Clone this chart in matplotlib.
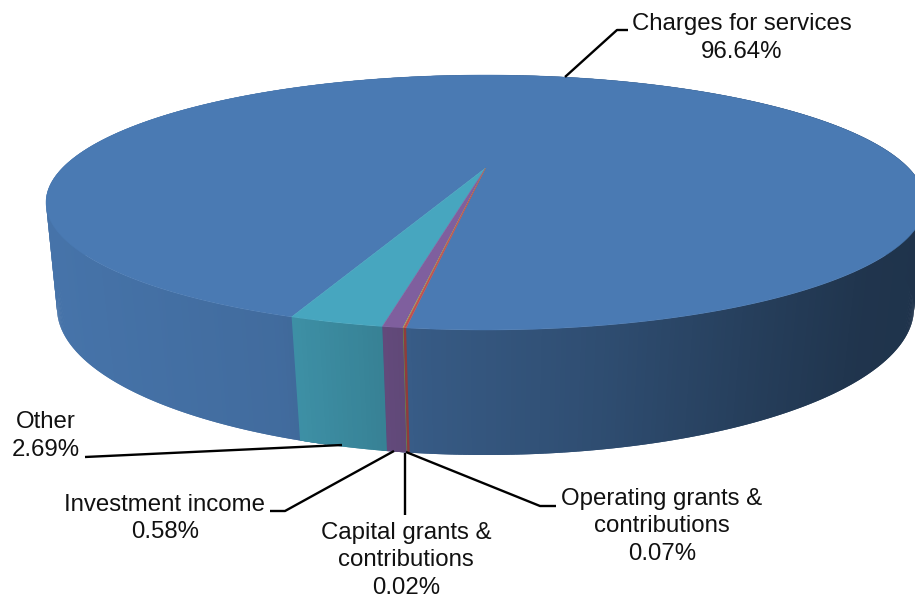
import numpy as np
import matplotlib
matplotlib.use('Agg')
import matplotlib.pyplot as plt
from matplotlib.colors import to_rgb

plt.rcParams['font.family'] = ['Liberation Sans', 'DejaVu Sans']

# slices in drawing order, the big one goes round the back of the pie
names = ['Charges for services', 'Other', 'Investment income',
         'Capital grants &\ncontributions', 'Operating grants &\ncontributions']
shares = [96.64, 2.69, 0.58, 0.02, 0.07]
top_colors = ['#4a7ab3', '#47a6bf', '#7f5f9e', '#9bbb59', '#c0504d']

# shading of the rim from left to right
shade_x = [40, 280, 420, 600, 750, 860, 925]
shade_f = [0.95, 0.88, 0.74, 0.63, 0.51, 0.43, 0.42]

# label centres and the leader line of each slice
label_x = [742, 46, 165, 406, 662]
label_y = [38, 436, 518.5, 560.5, 526.5]
leader_x = [[565, 617, 628], [85, 342], [270, 285, 394], [405, 405], [406, 540, 556]]
leader_y = [[77, 30, 30], [457, 445], [511, 511, 451], [453, 515], [452, 506, 506]]

first_edge = -7.9


def project(phi, half_w, mid_y, half_h, k):
    # circle seen in perspective, phi in degrees from the point nearest the viewer
    phi = np.radians(phi)
    x = np.sin(phi)
    y = -np.cos(phi)
    w = 1 + k * y
    a = half_w * np.sqrt(1 - k * k)
    b = half_h * (1 - k * k)
    return 485.5 + a * x / w, mid_y - half_h * k - b * y / w


def top_rim(phi):
    return project(phi, 439.5, 202.5, 127.5, 0.27)


def bottom_rim(phi):
    return project(phi, 428.5, 308, 147, 0.25)


fig = plt.figure(figsize=(9.15, 5.98), dpi=100)
ax = fig.add_axes([0, 0, 1, 1])
ax.set_xlim(0, 915)
ax.set_ylim(598, 0)
ax.axis('off')

edges = first_edge + np.cumsum([0] + shares) * 3.6

# rim first, the top face covers whatever is behind it
for i in range(len(shares)):
    start, end = edges[i], edges[i + 1]
    if i == 0:
        # the big slice runs on underneath the small ones so no gap shows
        start -= 3
        end += 3
    steps = max(int((end - start) / 0.5), 1)
    phis = np.linspace(start, end, steps + 1)
    base = np.array(to_rgb(top_colors[i]))
    for j in range(steps):
        # each strip overlaps the next one to hide the seams
        p0 = phis[j]
        p1 = phis[min(j + 2, steps)]
        x0, y0 = top_rim(p0)
        x1, y1 = top_rim(p1)
        x2, y2 = bottom_rim(p1)
        x3, y3 = bottom_rim(p0)
        c = base * np.interp((x0 + x3) / 2, shade_x, shade_f)
        ax.fill([x0, x1, x2, x3], [y0, y1, y2, y3], color=c, lw=0, zorder=1)

for i in range(len(shares)):
    steps = max(int((edges[i + 1] - edges[i]) / 0.5), 1)
    phis = np.linspace(edges[i], edges[i + 1], steps + 1)
    rx, ry = top_rim(phis)
    apex_y = 202.5 - 127.5 * 0.27
    ax.fill(np.r_[485.5, rx], np.r_[apex_y, ry], color=top_colors[i], lw=0.3, zorder=2)

for xs, ys in zip(leader_x, leader_y):
    ax.plot(xs, ys, color='black', lw=1.7, zorder=3, solid_capstyle='butt')

for name, share, lx, ly in zip(names, shares, label_x, label_y):
    ax.text(lx, ly, name + '\n%.2f%%' % share, ha='center', va='center',
            fontsize=17.25, color='#111111', linespacing=1.3, zorder=4)

fig.savefig('out.png', dpi=100)
